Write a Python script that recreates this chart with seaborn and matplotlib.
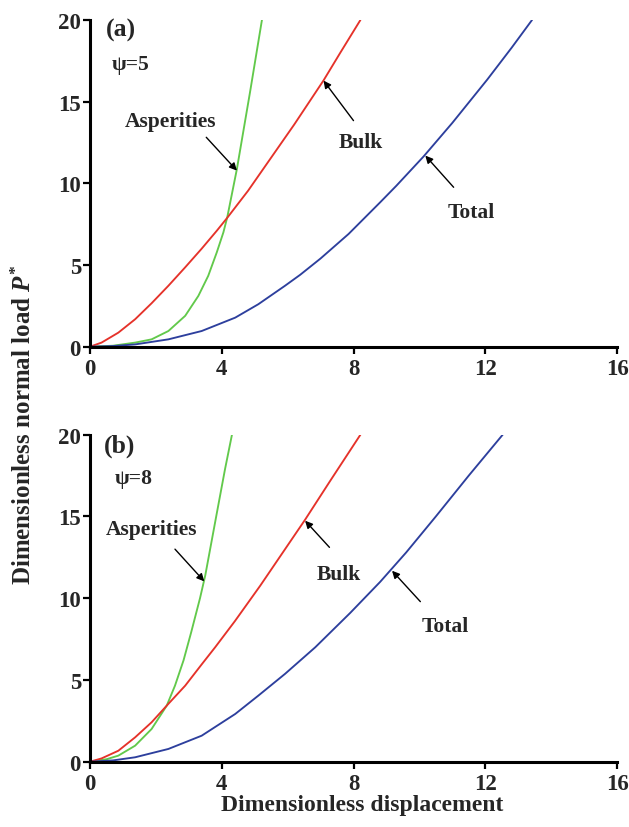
import matplotlib
matplotlib.use("Agg")
import matplotlib.pyplot as plt
import seaborn as sns
import numpy as np

# ---------------- data ----------------
# panel (a), psi = 5
disp_a_asp = [0, 0.7, 1.37, 1.87, 2.38, 2.89, 3.29, 3.59, 3.85, 4.05, 4.17, 4.46, 4.86, 5.22]
load_a_asp = [0, 0.06, 0.25, 0.45, 0.96, 1.89, 3.11, 4.34, 5.78, 7.0, 7.95, 10.88, 15.6, 20]

disp_a_bulk = [0, 0.35, 0.86, 1.37, 1.87, 2.38, 2.89, 3.39, 3.85, 4.17, 4.8, 5.37, 6.2, 7.09, 7.6, 8.21]
load_a_bulk = [0, 0.25, 0.86, 1.68, 2.66, 3.73, 4.86, 6.0, 7.1, 7.9, 9.55, 11.2, 13.6, 16.3, 18.0, 20]

disp_a_tot = [0, 0.7, 1.37, 2.38, 3.39, 4.41, 5.11, 5.92, 6.38, 7.0, 7.85, 8.81, 9.3, 10.13, 11.0, 12.06, 12.8, 13.42]
load_a_tot = [0, 0.04, 0.14, 0.45, 0.96, 1.78, 2.6, 3.73, 4.4, 5.4, 6.9, 8.84, 9.85, 11.65, 13.7, 16.35, 18.3, 20]

# panel (b), psi = 8
disp_b_asp = [0, 0.5, 0.86, 1.37, 1.87, 2.33, 2.58, 2.84, 3.07, 3.34, 3.5, 3.85, 4.1, 4.31]
load_b_asp = [0, 0.15, 0.37, 0.98, 2.0, 3.43, 4.65, 6.2, 7.9, 10.0, 11.4, 15.2, 17.9, 20]

disp_b_bulk = [0, 0.35, 0.86, 1.37, 1.87, 2.33, 2.89, 3.39, 3.8, 4.4, 5.17, 6.53, 7.3, 8.21]
load_b_bulk = [0, 0.2, 0.67, 1.49, 2.41, 3.43, 4.65, 5.95, 7.0, 8.6, 10.77, 14.8, 17.2, 20]

disp_b_tot = [0, 0.7, 1.37, 2.38, 3.39, 4.41, 5.11, 5.92, 6.84, 7.9, 8.81, 9.6, 10.5, 11.5, 12.53]
load_b_tot = [0, 0.08, 0.27, 0.78, 1.59, 2.92, 4.04, 5.37, 7.0, 9.1, 11.0, 12.8, 15.0, 17.5, 20]

x_ticks = [0, 4, 8, 12, 16]
y_ticks = [0, 5, 10, 15, 20]

panel_labels = ["(a)", "(b)"]
psi_labels = ["\u03c8=5", "\u03c8=8"]
curve_names = ["Asperities", "Bulk", "Total"]

# ---------------- style ----------------
sns.set_style("white")
plt.rcParams["font.family"] = ["Liberation Serif", "DejaVu Serif"]
plt.rcParams["font.weight"] = "bold"
plt.rcParams["mathtext.fontset"] = "custom"
plt.rcParams["mathtext.rm"] = "Liberation Serif:bold"
plt.rcParams["mathtext.it"] = "Liberation Serif:italic:bold"
plt.rcParams["mathtext.bf"] = "Liberation Serif:bold"

c_green = "#62c94b"
c_red = "#e5322a"
c_blue = "#2d3f9d"

fig = plt.figure(figsize=(6.29, 8.28), dpi=100)
W, H = 629, 828
ax_a = fig.add_axes([90 / W, 1 - 347.7 / H, (617 - 90) / W, (347.7 - 21) / H])
ax_b = fig.add_axes([90 / W, 1 - 762.7 / H, (617 - 90) / W, (762.7 - 435.7) / H])

series = [
    (ax_a, [(disp_a_asp, load_a_asp, c_green), (disp_a_bulk, load_a_bulk, c_red), (disp_a_tot, load_a_tot, c_blue)]),
    (ax_b, [(disp_b_asp, load_b_asp, c_green), (disp_b_bulk, load_b_bulk, c_red), (disp_b_tot, load_b_tot, c_blue)]),
]

for ax, curves in series:
    for xs, ys, col in curves:
        sns.lineplot(x=xs, y=ys, ax=ax, color=col, lw=1.35, estimator=None, sort=False)
    ax.set_xlim(0, 16)
    ax.set_ylim(0, 20)
    ax.set_xticks(x_ticks)
    ax.set_yticks(y_ticks)
    ax.set_xticklabels([str(t) for t in x_ticks], fontsize=16.5, fontweight="bold")
    ax.set_yticklabels([str(t) for t in y_ticks], fontsize=16.5, fontweight="bold")
    for s in ["top", "right"]:
        ax.spines[s].set_visible(False)
    for s in ["left", "bottom"]:
        ax.spines[s].set_linewidth(2.2)
        ax.spines[s].set_color("black")
    ax.tick_params(axis="both", direction="out", length=5, width=1.6, color="black",
                   bottom=True, left=True)
    ax.tick_params(axis="x", pad=3)
    ax.tick_params(axis="y", pad=1.5)
    ax.set_xlabel("")
    ax.set_ylabel("")

fs_ann = 15.5
arrow_kw = dict(arrowstyle="-|>", color="black", lw=1.0, mutation_scale=11, shrinkA=0, shrinkB=0)

# panel (a) texts
ax_a.text(0.49, 19.4, panel_labels[0], fontsize=18.5, fontweight="bold", ha="left", va="center")
ax_a.text(0.67, 17.3, psi_labels[0], fontsize=15.5, fontweight="bold", ha="left", va="center")
ax_a.text(2.46, 13.79, curve_names[0], fontsize=fs_ann, fontweight="bold", ha="center", va="center")
ax_a.annotate("", xy=(4.46, 10.78), xytext=(3.53, 12.82), arrowprops=arrow_kw)
ax_a.text(8.23, 12.52, curve_names[1], fontsize=fs_ann, fontweight="bold", ha="center", va="center")
ax_a.annotate("", xy=(7.09, 16.29), xytext=(8.0, 13.84), arrowprops=arrow_kw)
ax_a.text(11.59, 8.23, curve_names[2], fontsize=fs_ann, fontweight="bold", ha="center", va="center")
ax_a.annotate("", xy=(10.18, 11.7), xytext=(11.04, 9.76), arrowprops=arrow_kw)

# panel (b) texts
ax_b.text(0.43, 19.37, panel_labels[1], fontsize=18.5, fontweight="bold", ha="left", va="center")
ax_b.text(0.76, 17.38, psi_labels[1], fontsize=15.5, fontweight="bold", ha="left", va="center")
ax_b.text(1.88, 14.26, curve_names[0], fontsize=fs_ann, fontweight="bold", ha="center", va="center")
ax_b.annotate("", xy=(3.47, 11.03), xytext=(2.58, 13.0), arrowprops=arrow_kw)
ax_b.text(7.56, 11.48, curve_names[1], fontsize=fs_ann, fontweight="bold", ha="center", va="center")
ax_b.annotate("", xy=(6.53, 14.74), xytext=(7.27, 13.11), arrowprops=arrow_kw)
ax_b.text(10.8, 8.33, curve_names[2], fontsize=fs_ann, fontweight="bold", ha="center", va="center")
ax_b.annotate("", xy=(9.17, 11.68), xytext=(10.03, 9.79), arrowprops=arrow_kw)

# axis labels
fig.text(362 / W, 1 - 806 / H, "Dimensionless displacement", fontsize=17, fontweight="bold",
         ha="center", va="center")
fig.text(24 / W, 1 - 425 / H, r"Dimensionless normal load $\mathit{P}^{*}$", fontsize=18,
         fontweight="bold", ha="center", va="center", rotation=90)

fig.savefig("out.png", dpi=100)
